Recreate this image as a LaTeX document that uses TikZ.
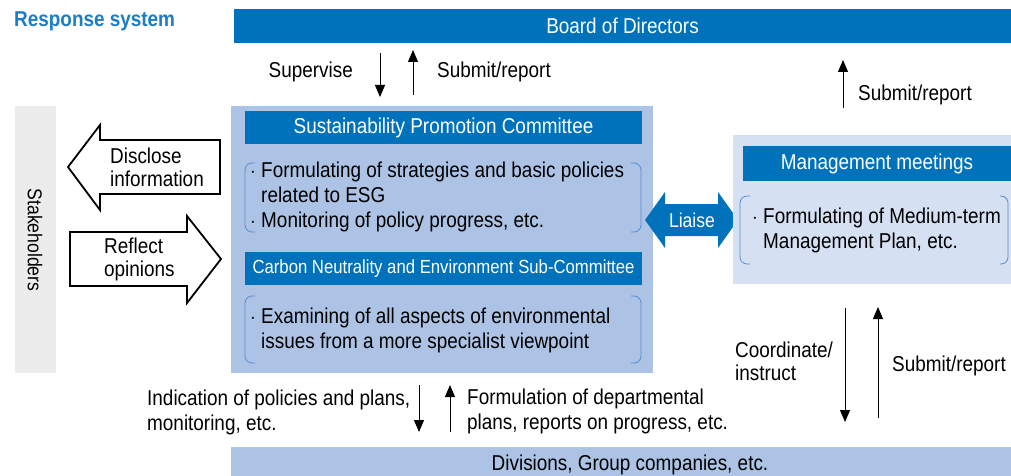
\documentclass[tikz,border=0pt]{standalone}
\usepackage{fontspec}
\setmainfont{Liberation Sans}[FakeStretch=0.88]
\usetikzlibrary{arrows.meta, positioning, calc}
\definecolor{boardblue}{RGB}{0,114,188}
\definecolor{titleblue}{RGB}{28,125,195}
\definecolor{committeefill}{RGB}{173,195,229}
\definecolor{meetingfill}{RGB}{214,224,243}
\definecolor{bracketcolor}{RGB}{86,140,205}
\definecolor{stakegray}{RGB}{236,236,236}

\begin{document}
\begin{tikzpicture}[
    x=1pt, y=-1pt,
    >={Triangle[length=12pt, width=10pt]},
    txt/.style={font=\fontsize{21.5}{25}\selectfont, inner sep=0pt, align=left},
    header/.style={rectangle, fill=boardblue, text=white, inner sep=0pt, font=\fontsize{21.5}{25}\selectfont},
    bracket/.style={draw=bracketcolor, line width=0.8pt, rounded corners=7pt},
    arrow/.style={->, line width=1pt},
    blockarrow/.style={draw=black, line width=1.8pt, fill=white, line join=miter}
]
\useasboundingbox (0,0) rectangle (1011,476);

% Title
\node[anchor=west, text=titleblue, font=\fontsize{21.5}{25}\selectfont\bfseries, inner sep=0pt] (title) at (14,21) {Response system};

% Board of Directors
\node[header, minimum width=777pt, minimum height=34pt] (board) at (622.5,26) {Board of Directors};

% Stakeholders
\fill[stakegray] (15,106) rectangle (56,373);
\node[rotate=-90, font=\fontsize{20}{24}\selectfont, inner sep=0pt] (stake) at (35,240) {Stakeholders};

% Disclose / Reflect arrows
\draw[blockarrow] (68,167) -- (100,125) -- (100,140) -- (220,140) -- (220,194) -- (100,194) -- (100,210) -- cycle;
\node[txt, anchor=west, font=\fontsize{21.5}{23}\selectfont] (disclose) at (110,167) {Disclose\\information};
\draw[blockarrow] (70,232) -- (187,232) -- (187,216) -- (221,259) -- (187,303) -- (187,286) -- (70,286) -- cycle;
\node[txt, anchor=west, font=\fontsize{21.5}{23}\selectfont] (reflect) at (104,259) {Reflect\\opinions};

% Committee block
\node[rectangle, fill=committeefill, minimum width=422pt, minimum height=267pt, inner sep=0pt] (committee) at (442,239.5) {};
\node[header, minimum width=397pt, minimum height=33pt] (spc) at (443.5,127.5) {Sustainability Promotion Committee};
\draw[bracket] (255,163) -- (245,163) -- (245,232) -- (255,232);
\draw[bracket] (631,163) -- (641,163) -- (641,232) -- (631,232);
\node[txt, anchor=west] (spctext) at (250,197) {$\cdot$ Formulating of strategies and basic policies\\\phantom{$\cdot$ }related to ESG\\$\cdot$ Monitoring of policy progress, etc.};

\node[header, minimum width=397pt, minimum height=33pt, font=\fontsize{19}{23}\selectfont] (cne) at (443.5,268.5) {Carbon Neutrality and Environment Sub-Committee};
\draw[bracket] (255,296) -- (245,296) -- (245,363) -- (255,363);
\draw[bracket] (631,296) -- (641,296) -- (641,363) -- (631,363);
\node[txt, anchor=west] (cnetext) at (250,330) {$\cdot$ Examining of all aspects of environmental\\\phantom{$\cdot$ }issues from a more specialist viewpoint};

% Liaise
\fill[boardblue] (645,220) -- (665,192) -- (665,204) -- (718,204) -- (718,192) -- (738,220) -- (718,248) -- (718,236) -- (665,236) -- (665,248) -- cycle;
\node[txt, text=white, font=\fontsize{20}{24}\selectfont] (liaise) at (692,220) {Liaise};

% Management meetings
\node[rectangle, fill=meetingfill, minimum width=278pt, minimum height=149pt, inner sep=0pt] (meeting) at (872,209.5) {};
\node[header, minimum width=268pt, minimum height=35pt] (mm) at (877,163.5) {Management meetings};
\draw[bracket] (750,196) -- (740,196) -- (740,264) -- (750,264);
\draw[bracket] (1000,196) -- (1008,196) -- (1008,264) -- (1000,264);
\node[txt, anchor=west] (mmtext) at (752,230.5) {$\cdot$ Formulating of Medium-term\\\phantom{$\cdot$ }Management Plan, etc.};

% Divisions
\node[rectangle, fill=committeefill, minimum width=780pt, minimum height=40pt, inner sep=0pt] (divisions) at (621,467) {};
\node[txt] (divtext) at (630,465) {Divisions, Group companies, etc.};

% Board <-> committee
\coordinate (supA) at (380,53);
\coordinate (supB) at (380,97);
\coordinate (subA) at (413,95);
\coordinate (subB) at (413,50);
\draw[arrow] (supA) -- (supB);
\draw[arrow] (subA) -- (subB);
\node[txt, anchor=east] (supervise) at (353,72) {Supervise};
\node[txt, anchor=west] (submit1) at (437,72) {Submit/report};

% Meetings -> board
\coordinate (mbA) at (843,108);
\coordinate (mbB) at (843,60);
\draw[arrow] (mbA) -- (mbB);
\node[txt, anchor=west] (submit2) at (858,95) {Submit/report};

% Meetings <-> divisions
\coordinate (coA) at (845,308);
\coordinate (coB) at (845,422);
\coordinate (srA) at (878,418);
\coordinate (srB) at (878,307);
\draw[arrow] (coA) -- (coB);
\draw[arrow] (srA) -- (srB);
\node[txt, anchor=west, font=\fontsize{21.5}{23}\selectfont] (coordinate) at (735,361.5) {Coordinate/\\instruct};
\node[txt, anchor=west] (submit3) at (892,366) {Submit/report};

% Committee <-> divisions
\coordinate (inA) at (419,385);
\coordinate (inB) at (419,432);
\coordinate (foA) at (450,432);
\coordinate (foB) at (450,385);
\draw[arrow] (inA) -- (inB);
\draw[arrow] (foA) -- (foB);
\node[txt, anchor=west] (indication) at (147,412) {Indication of policies and plans,\\monitoring, etc.};
\node[txt, anchor=west] (formulation) at (467,411.5) {Formulation of departmental\\plans, reports on progress, etc.};

\end{tikzpicture}
\end{document}
